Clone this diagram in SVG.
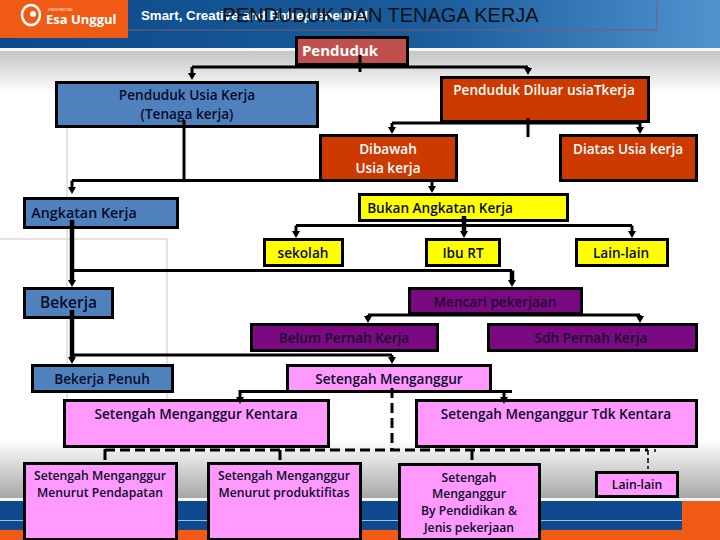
<svg xmlns="http://www.w3.org/2000/svg" width="720" height="540" viewBox="0 0 720 540">
<style>
.n{stroke:#000;stroke-width:3}
.blue{fill:#4f81bd}.red{fill:#cc3a00}.yel{fill:#ffff00}.pur{fill:#7b0a82}.pink{fill:#ff99ff}.rose{fill:#c0504d}
text{font-family:"Open Sans","Noto Sans","Liberation Sans",sans-serif;font-weight:600;font-size:13.600px;fill:#0b0b2a;text-anchor:middle}
.w{fill:#fff}.dk{fill:#1c0a30}
.s{font-size:12.200px}
.c{fill:none;stroke:#000;stroke-width:3}
.t{stroke-width:4.500}
.d{fill:none;stroke:#000;stroke-width:3;stroke-dasharray:10 5}
.f{fill:none;stroke:#dedbd4;stroke-width:1.500}
</style>
<defs>
<linearGradient id="hb" x1="0" x2="1" y1="0" y2="0"><stop offset="0" stop-color="#0b4a8c"/><stop offset=".6" stop-color="#1a5c9c"/><stop offset="1" stop-color="#4f93cf"/></linearGradient>
<linearGradient id="hv" x1="0" x2="0" y1="0" y2="1"><stop offset="0" stop-color="#c4c4c4"/><stop offset="1" stop-color="#ffffff"/></linearGradient>
<linearGradient id="fv" x1="0" x2="0" y1="0" y2="1"><stop offset="0" stop-color="#ffffff"/><stop offset="1" stop-color="#a4a4a4"/></linearGradient>
<marker id="a" markerWidth="9" markerHeight="9" refX="1" refY="4" orient="auto" markerUnits="userSpaceOnUse"><path d="M0 0L7 4L0 8Z" fill="#000"/></marker>
</defs>
<g id="background">
<rect width="720" height="540" fill="#fff"/>
<rect y="0" width="720" height="48" fill="url(#hb)"/>
<rect y="48" width="720" height="3" fill="#f4f6f8"/>
<rect y="51" width="720" height="42" fill="url(#hv)"/>
<rect x="0" y="0" width="128" height="38" fill="#f05a14"/>
<path d="M128 30H657V1" fill="none" stroke="#7d5a6a" stroke-width="1"/>
<text x="141" y="20" class="w" style="font-size:13.300px;font-family:'Liberation Sans',sans-serif;font-weight:700;text-anchor:start">Smart, Creative and Entrepreneurial</text>
<text x="46" y="24" class="w" style="font-size:13px;font-weight:700;text-anchor:start">Esa Unggul</text>
<text x="48" y="11" class="w" style="font-size:4px;font-weight:400;text-anchor:start">UNIVERSITAS</text>
<ellipse cx="31" cy="15" rx="9" ry="10" fill="none" stroke="#fff" stroke-width="2.500"/>
<circle cx="33" cy="14" r="3" fill="#fff"/>
<path d="M67 93V462M0 239H167V462" class="f"/>
<rect y="440" width="720" height="60" fill="url(#fv)"/>
<rect y="498" width="720" height="3" fill="#f4f6f8"/>
<rect y="501" width="720" height="39" fill="#0f4a8e"/>
<rect y="520" width="682" height="1" fill="#a9c2dc"/>
<rect y="530" width="720" height="10" fill="#f05a14"/>
<rect x="682" y="501" width="38" height="39" fill="#f05a14"/>
<text x="380.500" y="22" style="font-family:'Liberation Sans',sans-serif;font-weight:400;font-size:20px;fill:#111">PENDUDUK DAN TENAGA KERJA</text>
</g>
<g id="n-penduduk"><rect class="n rose" x="296.500" y="37.500" width="111" height="27"/><text class="w" x="340" y="56" style="font-size:15px;font-weight:700">Penduduk</text></g>
<g id="n-usia"><rect class="n blue" x="56.500" y="82.500" width="261" height="44"/><text x="187" y="100">Penduduk Usia Kerja</text><text x="187" y="119">(Tenaga kerja)</text></g>
<g id="n-diluar"><rect class="n red" x="441.500" y="77.500" width="207" height="44"/><text class="w" x="544" y="95">Penduduk Diluar usiaTkerja</text></g>
<g id="n-dibawah"><rect class="n red" x="320.500" y="135.500" width="136" height="45"/><text class="w" x="388" y="154">Dibawah</text><text class="w" x="388" y="173">Usia kerja</text></g>
<g id="n-diatas"><rect class="n red" x="560.500" y="135.500" width="136" height="45"/><text class="w" x="628" y="154">Diatas Usia kerja</text></g>
<g id="n-bukan"><rect class="n yel" x="359.500" y="194.500" width="208" height="26"/><text x="440" y="213">Bukan Angkatan Kerja</text></g>
<g id="n-angkatan"><rect class="n blue" x="24.500" y="198.500" width="153" height="29"/><text x="84" y="218" style="font-size:14.300px">Angkatan Kerja</text></g>
<g id="n-sekolah"><rect class="n yel" x="264.500" y="239.500" width="78" height="26"/><text x="303" y="258">sekolah</text></g>
<g id="n-ibu"><rect class="n yel" x="426.500" y="239.500" width="73" height="26"/><text x="463" y="258">Ibu RT</text></g>
<g id="n-lain1"><rect class="n yel" x="576.500" y="239.500" width="91" height="26"/><text x="621" y="258">Lain-lain</text></g>
<g id="n-bekerja"><rect class="n blue" x="24.500" y="288.500" width="88" height="29"/><text x="68.500" y="308" style="font-size:15.500px">Bekerja</text></g>
<g id="n-mencari"><rect class="n pur" x="409.500" y="288.500" width="172" height="25"/><text class="dk" x="495" y="307">Mencari pekerjaan</text></g>
<g id="n-belum"><rect class="n pur" x="251.500" y="324.500" width="186" height="26"/><text class="dk" x="344" y="343">Belum Pernah Kerja</text></g>
<g id="n-sdh"><rect class="n pur" x="488.500" y="324.500" width="208" height="26"/><text class="dk" x="591" y="343">Sdh Pernah Kerja</text></g>
<g id="n-penuh"><rect class="n blue" x="32.500" y="365.500" width="140" height="26"/><text x="102" y="384">Bekerja Penuh</text></g>
<g id="n-setengah"><rect class="n pink" x="287.500" y="365.500" width="203" height="26"/><text x="389" y="384">Setengah Menganggur</text></g>
<g id="n-kentara"><rect class="n pink" x="64.500" y="400.500" width="264" height="46"/><text x="196" y="419">Setengah Menganggur Kentara</text></g>
<g id="n-tdk"><rect class="n pink" x="416.500" y="400.500" width="280" height="46"/><text x="556" y="419">Setengah Menganggur Tdk Kentara</text></g>
<g id="n-pendapatan"><rect class="n pink" x="24.500" y="463.500" width="152" height="76"/><text class="s" x="100" y="480">Setengah Menganggur</text><text class="s" x="100" y="497">Menurut Pendapatan</text></g>
<g id="n-produktifitas"><rect class="n pink" x="208.500" y="463.500" width="152" height="76"/><text class="s" x="284" y="480">Setengah Menganggur</text><text class="s" x="284" y="497">Menurut produktifitas</text></g>
<g id="n-pendidikan"><rect class="n pink" x="399.500" y="464.500" width="140" height="75"/><text class="s" x="469" y="482">Setengah</text><text class="s" x="469" y="498">Menganggur</text><text class="s" x="469" y="515">By Pendidikan &amp;</text><text class="s" x="469" y="532">Jenis pekerjaan</text></g>
<g id="n-lain2"><rect class="n pink" x="596.500" y="472.500" width="81" height="24"/><text class="s" x="637" y="489">Lain-lain</text></g>
<g id="connectors">
<path class="c" d="M360 55V72M192 67H528"/>
<path class="c" d="M192 67V74" marker-end="url(#a)"/>
<path class="c" d="M528 67V69" marker-end="url(#a)"/>
<path class="c" d="M528 118V137M392 123H640"/>
<path class="c" d="M392 123V128" marker-end="url(#a)"/>
<path class="c" d="M640 123V128" marker-end="url(#a)"/>
<path class="c" d="M184 120V180.500M72 180.500H320"/>
<path class="c" d="M72 180.500V188" marker-end="url(#a)"/>
<path class="c" d="M432 180V187" marker-end="url(#a)"/>
<path class="c" d="M296 225.500H632"/>
<path class="c" d="M296 225.500V232" marker-end="url(#a)"/>
<path class="c t" d="M464 216V232" marker-end="url(#a)"/>
<path class="c" d="M632 225.500V232" marker-end="url(#a)"/>
<path class="c t" d="M72 220V281" marker-end="url(#a)"/>
<path class="c" d="M72 270.500H512"/>
<path class="c t" d="M512 270.500V281" marker-end="url(#a)"/>
<path class="c t" d="M72 310V358" marker-end="url(#a)"/>
<path class="c" d="M72 355H392"/>
<path class="c" d="M392 355V358" marker-end="url(#a)"/>
<path class="c" d="M368 315H640M512 312V316"/>
<path class="c" d="M368 315V317" marker-end="url(#a)"/>
<path class="c" d="M640 315V317" marker-end="url(#a)"/>
<path class="d" d="M392 388V450"/>
<path class="c" d="M286 391.500H240V398" marker-end="url(#a)"/>
<path class="c" d="M492 391.500H512"/>
<path class="c" d="M504 391.500V398" marker-end="url(#a)"/>
<path class="d" d="M105 450H648"/>
<path class="c" d="M105 449V460M280 450V460M472 450V460"/>
<path fill="none" stroke="#000" stroke-width="1.500" stroke-dasharray="5 3" d="M648 450V469M655 449V452"/>
</g>
</svg>
